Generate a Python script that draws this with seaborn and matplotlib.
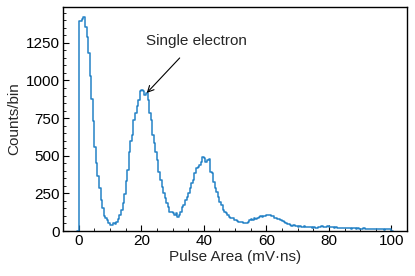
import numpy as np
import pandas as pd
import matplotlib
matplotlib.use("Agg")
import matplotlib.pyplot as plt
import seaborn as sns
from matplotlib.ticker import MultipleLocator

# Histogram counts per 0.5 mV·ns bin, from 0 to 100
counts = [
    1395, 1392, 1410, 1420, 1352, 1288, 1185, 1030, 880, 730,
    555, 450, 365, 285, 205, 150, 98, 85, 72, 50,
    40, 42, 50, 47, 62, 78, 106, 140, 185, 245,
    330, 405, 528, 600, 640, 740, 786, 830, 872, 928,
    940, 930, 905, 915, 872, 786, 740, 640, 583, 528,
    472, 395, 340, 295, 250, 218, 184, 161, 128, 128,
    117, 106, 117, 95, 106, 128, 161, 172, 206, 228,
    251, 284, 318, 340, 384, 418, 428, 440, 461, 491,
    484, 461, 473, 480, 395, 384, 328, 284, 262, 228,
    195, 173, 140, 128, 118, 106, 95, 88, 84, 75,
    73, 66, 62, 58, 62, 56, 51, 55, 62, 70,
    80, 76, 84, 80, 88, 92, 100, 96, 102, 100,
    106, 104, 108, 100, 102, 84, 88, 80, 77, 70,
    66, 58, 52, 47, 44, 40, 36, 38, 33, 30,
    29, 32, 28, 26, 30, 27, 25, 28, 24, 22,
    26, 22, 20, 24, 28, 30, 26, 24, 28, 30,
    27, 24, 26, 22, 25, 23, 22, 20, 23, 21,
    19, 22, 20, 18, 16, 19, 17, 15, 18, 16,
    14, 15, 17, 13, 15, 14, 12, 15, 13, 11,
    14, 12, 13, 15, 12, 10, 13, 16, 12, 14,
]
bin_width = 0.5
area_lo, area_hi = 0.0, 100.0

# pad with an empty bin on each side so the step outline starts/ends at baseline
edges_lo = area_lo - bin_width
centers = np.arange(edges_lo + bin_width / 2, area_hi + bin_width, bin_width)
weights = [0] + counts + [0]
df = pd.DataFrame({"area": centers, "count": weights})

sns.set_theme(style="ticks")
plt.rcParams["font.family"] = ["Liberation Sans", "DejaVu Sans"]
plt.rcParams["font.size"] = 11

fig = plt.figure(figsize=(4.15, 2.76), dpi=100)
ax = fig.add_axes([0.152, 0.163, 0.829, 0.811])

sns.histplot(data=df, x="area", weights="count", bins=len(weights),
             binrange=(edges_lo, area_hi + bin_width), element="step",
             fill=False, color="#2582c6", linewidth=1.1, ax=ax)

ax.set_xlim(-5, 105)
ax.set_ylim(0, 1487)
ax.xaxis.set_major_locator(MultipleLocator(20))
ax.xaxis.set_minor_locator(MultipleLocator(5))
ax.yaxis.set_major_locator(MultipleLocator(250))
ax.yaxis.set_minor_locator(MultipleLocator(50))
ax.tick_params(which="both", direction="in", colors="black", labelsize=11,
               top=False, right=False)
ax.tick_params(which="major", length=4, width=0.8, pad=2.5)
ax.tick_params(which="minor", length=2.2, width=0.6)
for s in ax.spines.values():
    s.set_visible(True)
    s.set_color("black")
    s.set_linewidth(1.0)

ax.set_xlabel("Pulse Area (mV·ns)", fontsize=11, labelpad=1)
ax.set_ylabel("Counts/bin", fontsize=11, labelpad=3)

ax.annotate("Single electron", xy=(21.75, 917), xytext=(37.5, 1265),
            ha="center", va="center", fontsize=11,
            arrowprops=dict(arrowstyle="->", color="black", lw=0.8,
                            shrinkA=7, shrinkB=0))

fig.savefig("out.png", dpi=100)
